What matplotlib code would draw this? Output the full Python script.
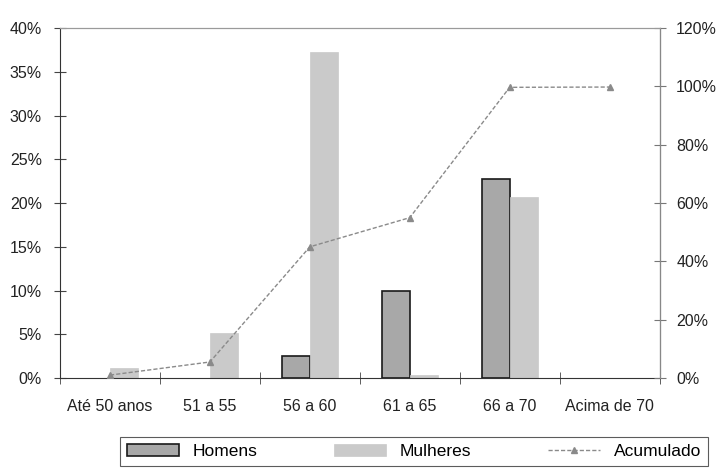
import matplotlib
matplotlib.use("Agg")
from matplotlib import pyplot as plt
from matplotlib.patches import Patch
from matplotlib.ticker import FuncFormatter, FixedLocator
import numpy as np

plt.rcParams['font.family'] = ['Liberation Sans', 'DejaVu Sans']

categories = ["Até 50 anos", "51 a 55", "56 a 60", "61 a 65", "66 a 70", "Acima de 70"]
homens = [0.0, 0.0, 2.5, 10.0, 22.7, 0.0]
mulheres = [1.1, 5.2, 37.3, 0.4, 20.7, 0.0]
acumulado = [1.0, 5.5, 45.0, 55.0, 99.7, 99.8]

x = np.arange(len(categories))
width = 0.28

fig = plt.figure(figsize=(7.18, 4.69), dpi=100)
ax = fig.add_axes([0.0836, 0.194, 0.835, 0.746])
ax2 = ax.twinx()

# bars on the left axis (no outline where the value is zero)
h_lw = [1.2 if v > 0 else 0 for v in homens]
m_lw = [0.5 if v > 0 else 0 for v in mulheres]
ax.bar(x - width / 2, homens, width, color="#a8a8a8", edgecolor="#1a1a1a", linewidth=h_lw)
ax.bar(x + width / 2, mulheres, width, color="#cacaca", edgecolor="#cacaca", linewidth=m_lw)

# cumulative line on the right axis
l1, = ax2.plot(x, acumulado, color="#8a8a8a", linestyle=(0, (3, 1.5)), linewidth=1.0,
               marker="^", markersize=4, markerfacecolor="#8a8a8a", markeredgecolor="#8a8a8a",
               label="Acumulado")

ax.set_xlim(-0.5, len(categories) - 0.5)
ax.set_ylim(0, 40)
ax2.set_ylim(0, 120)
ax.set_yticks(np.arange(0, 41, 5))
ax2.set_yticks(np.arange(0, 121, 20))
ax.yaxis.set_major_formatter(FuncFormatter(lambda v, p: f"{v:.0f}%"))
ax2.yaxis.set_major_formatter(FuncFormatter(lambda v, p: f"{v:.0f}%"))

ax.set_xticks(x)
ax.set_xticklabels(categories)
ax.xaxis.set_minor_locator(FixedLocator(np.arange(-0.5, len(categories), 1.0)))
ax.tick_params(axis="x", which="major", length=0, pad=15, labelsize=11.5, colors="#222222")
ax.tick_params(axis="x", which="minor", length=8, direction="inout", color="#444444")
ax.tick_params(axis="y", length=8, direction="inout", labelsize=11.5, colors="#222222", color="#444444", pad=9)
ax2.tick_params(axis="y", length=8, direction="inout", labelsize=11.5, colors="#222222", color="#777777", pad=8)

for a in (ax, ax2):
    a.spines["top"].set_color("#9a9a9a")
    a.spines["top"].set_linestyle((0, (1, 1)))
    a.spines["top"].set_linewidth(0.8)
ax.spines["left"].set_color("#333333")
ax.spines["bottom"].set_color("#333333")
ax2.spines["right"].set_color("#888888")
ax2.spines["left"].set_visible(False)
ax2.spines["bottom"].set_visible(False)

ax2.set_zorder(ax.get_zorder() + 1)
ax2.patch.set_visible(False)

h_patch = Patch(facecolor="#a8a8a8", edgecolor="#1a1a1a", linewidth=1.2)
m_patch = Patch(facecolor="#cacaca", edgecolor="#cacaca", linewidth=0.5)
leg = fig.legend([h_patch, m_patch, l1], ["Homens", "Mulheres", "Acumulado"],
                 loc="lower left", bbox_to_anchor=(0.167, 0.006, 0.819, 0.073),
                 mode="expand", ncol=3, fancybox=False, frameon=True,
                 edgecolor="#333333", fontsize=12.5, handlelength=3.0,
                 handleheight=0.7, borderaxespad=0.0)
leg.get_frame().set_linewidth(0.8)

fig.savefig("out.png", dpi=100)
